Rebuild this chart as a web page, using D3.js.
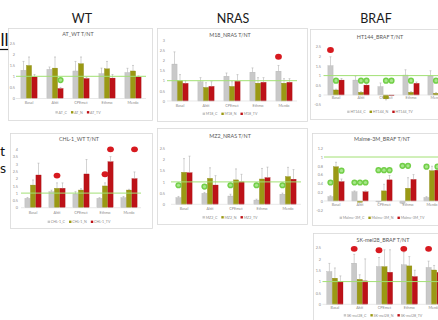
<!DOCTYPE html>
<html>
<head>
<meta charset="utf-8">
<script src="https://cdn.jsdelivr.net/npm/d3@7/dist/d3.min.js"></script>
<style>
  html, body { margin: 0; padding: 0; background: #ffffff; }
  svg { display: block; font-family: Lato, "Liberation Sans", sans-serif; }
</style>
</head>
<body>
<svg id="slide" width="438" height="320"></svg>
<script>
// ---- shared labels ----
const categories = ["Basal", "Akti", "CPEmet", "Ethmo", "Merdo"];
const columnTitles = ["WT", "NRAS", "BRAF"];

// ---- AT_WT ----
const atWtMeans  = [[1.27, 1.31, 1.24, 1.12, 1.17], [1.49, 1.37, 1.57, 1.34, 1.24], [0.97, 0.45, 0.90, 0.92, 0.97]];
const atWtErrors = [[0.40, 0.11, 0.43, 0.25, 0.19], [0.38, 0.50, 0.30, 0.33, 0.25], [0.11, 0.05, 0.06, 0.16, 0.05]];
const atWtLegend = ["AT_C", "AT_N", "AT_TV"];
const atWtRed   = [];
const atWtGreen = [["Akti", 2, 0.83]];

// ---- M18_NRAS ----
const m18Means  = [[1.82, 0.95, 1.22, 1.42, 1.47], [1.00, 0.67, 0.72, 0.88, 0.88], [0.87, 0.72, 0.97, 0.92, 0.92]];
const m18Errors = [[0.60, 0.20, 0.16, 0.21, 0.28], [0.30, 0.23, 0.23, 0.27, 0.22], [0.13, 0.23, 0.33, 0.23, 0.18]];
const m18Legend = ["M18_C", "M18_N", "M18_TV"];
const m18Red   = [["Merdo", 0, 2.18]];
const m18Green = [];

// ---- HT144_BRAF ----
const ht144Means  = [[1.51, 0.77, 0.43, 1.03, 0.98], [0.26, 0.14, -0.20, 0.14, 0.09], [0.77, 0.51, -0.03, 0.60, 0.55]];
const ht144Errors = [[0.46, 0.21, 0.19, 0.27, 0.27], [0.04, 0.03, 0.05, 0.03, 0.03], [0.08, 0.11, 0.02, 0.07, 0.08]];
const ht144Legend = ["HT144_C", "HT144_N", "HT144_TV"];
const ht144Red   = [["Basal", 0, 2.32]];
const ht144Green = [["Basal", 1, 0.74], ["Akti", 1, 0.74], ["Akti", 2, 0.74], ["CPEmet", 1, 0.74],
                    ["CPEmet", 2, 0.74], ["Ethmo", 1, 0.74], ["Merdo", 1, 0.74]];

// ---- CHL-1_WT ----
const chl1Means  = [[0.64, 1.10, 0.94, 0.64, 0.69], [1.55, 1.33, 1.21, 1.49, 1.21], [2.24, 1.33, 2.31, 3.15, 1.99]];
const chl1Errors = [[0.06, 0.10, 0.16, 0.05, 0.08], [0.35, 0.37, 0.09, 0.21, 0.05], [0.81, 0.37, 0.99, 0.35, 0.46]];
const chl1Legend = ["CHL-1_C", "CHL-1_N", "CHL-1_TV"];
const chl1Red   = [["Akti", 1, 2.2], ["Ethmo", 1, 2.29], ["Ethmo", 2, 4.0], ["Merdo", 2, 4.0]];
const chl1Green = [];

// ---- MZ2_NRAS ----
const mz2Means  = [[0.30, 0.49, 0.37, 0.19, 0.45], [1.43, 1.16, 1.09, 1.13, 1.24], [1.41, 0.86, 1.00, 1.19, 1.12]];
const mz2Errors = [[0.05, 0.04, 0.08, 0.04, 0.05], [0.61, 0.47, 0.49, 0.47, 0.41], [0.74, 0.42, 0.34, 0.47, 0.43]];
const mz2Legend = ["MZ2_C", "MZ2_N", "MZ2_TV"];
const mz2Red   = [];
const mz2Green = [["Basal", 0, 0.85], ["Akti", 0, 0.79], ["CPEmet", 0, 0.85], ["Ethmo", 0, 0.85], ["Merdo", 0, 0.85]];

// ---- Malme-3M_BRAF ----
const malmeMeans  = [[0.10, 0.21, -0.02, -0.05, 0.08], [0.78, -0.03, 0.23, 0.29, 0.69], [0.44, 0.21, 0.48, 0.49, 0.70]];
const malmeErrors = [[0.02, 0.02, 0.01, 0.01, 0.02], [0.10, 0.01, 0.15, 0.24, 0.10], [0.06, 0.02, 0.10, 0.11, 0.10]];
const malmeLegend = ["Malme-3M_C", "Malme-3M_N", "Malme-3M_TV"];
const malmeRed   = [];
const malmeGreen = [["Basal", 0, 0.42], ["Basal", 2, 0.69], ["Akti", 0, 0.42], ["Akti", 1, 0.42], ["Akti", 2, 0.42],
                    ["CPEmet", 0, 0.70], ["CPEmet", 1, 0.70], ["CPEmet", 2, 0.70], ["Ethmo", 0, 0.80], ["Ethmo", 1, 0.80],
                    ["Merdo", 0, 0.78], ["Merdo", 2, 0.78]];

// ---- SK-mel28_BRAF ----
const skMeans  = [[1.44, 1.81, 1.66, 1.74, 1.62], [1.15, 1.10, 1.66, 1.69, 1.51], [1.00, 1.03, 1.41, 1.22, 1.40]];
const skErrors = [[0.36, 0.39, 0.40, 0.56, 0.28], [0.45, 0.20, 0.74, 0.41, 0.20], [0.25, 0.97, 0.99, 0.28, 0.20]];
const skLegend = ["SK-mel28_C", "SK-mel28_N", "SK-mel28_TV"];
const skRed   = [["Akti", 0, 2.44], ["CPEmet", 0, 2.38], ["Ethmo", 0, 2.44], ["Merdo", 0, 2.44]];
const skGreen = [];

// ---- panel placement on the slide ----
const panels = [
  { title: "AT_WT T/NT", means: atWtMeans, errors: atWtErrors, legend: atWtLegend, red: atWtRed, green: atWtGreen,
    box: [8, 28, 144, 92], xr: [16, 146], yr: [98.5, 43], domain: [0, 2.5], step: 0.5,
    titleY: 36, xLabelY: 104.5, legendY: 113.5, yLabelX: 15 },
  { title: "M18_NRAS T/NT", means: m18Means, errors: m18Errors, legend: m18Legend, red: m18Red, green: m18Green,
    box: [157, 28, 150, 93], xr: [167, 297], yr: [101, 40.1], domain: [0, 3], step: 0.5,
    titleY: 36.5, xLabelY: 107, legendY: 115, yLabelX: 165 },
  { title: "HT144_BRAF T/NT", means: ht144Means, errors: ht144Errors, legend: ht144Legend, red: ht144Red, green: ht144Green,
    box: [310, 29, 140, 90], xr: [323.5, 448.5], yr: [104.7, 46.5], domain: [-0.5, 2.5], step: 0.5,
    titleY: 39, xLabelY: 99, legendY: 113, yLabelX: 321 },
  { title: "CHL-1_WT T/NT", means: chl1Means, errors: chl1Errors, legend: chl1Legend, red: chl1Red, green: chl1Green,
    box: [10, 133, 142, 95], xr: [21, 141], yr: [207.7, 149.3], domain: [0, 4], step: 0.5,
    titleY: 141, xLabelY: 214.5, legendY: 223, yLabelX: 18 },
  { title: "MZ2_NRAS T/NT", means: mz2Means, errors: mz2Errors, legend: mz2Legend, red: mz2Red, green: mz2Green,
    box: [157, 128, 150, 96], xr: [171, 301], yr: [204.3, 148.3], domain: [0, 2.5], step: 0.5,
    titleY: 137.5, xLabelY: 210.5, legendY: 218.5, yLabelX: 165 },
  { title: "Malme-3M_BRAF T/NT", means: malmeMeans, errors: malmeErrors, legend: malmeLegend, red: malmeRed, green: malmeGreen,
    box: [312, 133, 140, 92], xr: [324, 444], yr: [209.8, 148.2], domain: [-0.2, 1.2], step: 0.2,
    titleY: 140.5, xLabelY: 206.5, legendY: 219, yLabelX: 323 },
  { title: "SK-mel28_BRAF T/NT", means: skMeans, errors: skErrors, legend: skLegend, red: skRed, green: skGreen,
    box: [313, 233, 140, 95], xr: [322.5, 446.5], yr: [304.3, 247.5], domain: [0, 2.5], step: 0.5,
    titleY: 241.5, xLabelY: 309, legendY: 316.5, yLabelX: 321 }
];

const seriesColors = ["#c9c9c9", "#9a9914", "#bd1218"];
const seriesStroke = ["#a9a9a9", "#85840f", "#9e0d12"];

const svg = d3.select("#slide");

// column headings
const headingX = [82, 233, 376];
svg.selectAll("text.heading").data(columnTitles).join("text")
  .attr("class", "heading")
  .attr("x", (d, i) => headingX[i]).attr("y", 23)
  .attr("text-anchor", "middle")
  .attr("font-size", 12.5).attr("fill", "#1a1a1a")
  .text(d => d);

// text running in from the left margin
svg.append("text").attr("x", 0.5).attr("y", 46).attr("font-size", 17).attr("fill", "#111").text("ll");
svg.append("line").attr("x1", 0).attr("x2", 9.5).attr("y1", 49.5).attr("y2", 49.5)
  .attr("stroke", "#111").attr("stroke-width", 1.2);
svg.append("text").attr("x", 0).attr("y", 156).attr("font-size", 14).attr("fill", "#111").text("t");
svg.append("text").attr("x", 0).attr("y", 173).attr("font-size", 14).attr("fill", "#111").text("s");

const fmt = v => String(+v.toFixed(2));

panels.forEach(p => {
  const g = svg.append("g");
  const [bx, by, bw, bh] = p.box;

  g.append("rect").attr("x", bx + 0.5).attr("y", by + 0.5).attr("width", bw).attr("height", bh)
    .attr("fill", "#ffffff").attr("stroke", "#d9d9d9").attr("stroke-width", 0.8);

  const x = d3.scaleBand().domain(categories).range(p.xr).padding(0);
  const sub = d3.scaleBand().domain([0, 1, 2]).range([-8.1, 8.1]).paddingInner(0.06);
  const y = d3.scaleLinear().domain(p.domain).range(p.yr);
  const cx = (cat, s) => x(cat) + x.bandwidth() / 2 + sub(s) + sub.bandwidth() / 2;

  // title
  g.append("text").attr("x", bx + bw / 2 - (bx > 300 ? 0 : 2)).attr("y", p.titleY)
    .attr("text-anchor", "middle").attr("font-size", 5.4).attr("fill", "#595959")
    .text(p.title);

  // value axis labels
  const ticks = d3.range(p.domain[0], p.domain[1] + 1e-9, p.step);
  const yAxis = d3.axisLeft(y).tickValues(ticks).tickFormat(fmt).tickSize(0).tickPadding(0);
  const ya = g.append("g").attr("transform", `translate(${p.yLabelX},0)`).call(yAxis);
  ya.select(".domain").remove();
  ya.selectAll("text").attr("font-size", 3.8).attr("fill", "#8c8c8c").attr("font-family", "Lato, sans-serif");

  // category labels
  const xAxis = d3.axisBottom(x).tickSize(0).tickPadding(0);
  const xa = g.append("g").attr("transform", `translate(0,${p.xLabelY - 3})`).call(xAxis);
  xa.select(".domain").remove();
  xa.selectAll("text").attr("font-size", 3.8).attr("fill", "#8c8c8c").attr("font-family", "Lato, sans-serif");

  // bars
  const bars = [];
  p.means.forEach((row, s) => row.forEach((v, i) => bars.push({ cat: categories[i], s, v, e: p.errors[s][i] })));

  g.selectAll("rect.bar").data(bars).join("rect")
    .attr("class", "bar")
    .attr("x", d => x(d.cat) + x.bandwidth() / 2 + sub(d.s))
    .attr("width", sub.bandwidth())
    .attr("y", d => Math.min(y(d.v), y(0)))
    .attr("height", d => Math.abs(y(d.v) - y(0)))
    .attr("fill", d => seriesColors[d.s])
    .attr("stroke", d => seriesStroke[d.s]).attr("stroke-width", 0.3);

  // axis baseline
  g.append("line").attr("x1", p.xr[0]).attr("x2", p.xr[1]).attr("y1", y(0)).attr("y2", y(0))
    .attr("stroke", "#d9d9d9").attr("stroke-width", 0.6);

  // error bars
  const errTop = d => y(d.v >= 0 ? d.v + d.e : d.v - d.e);
  g.selectAll("line.err").data(bars).join("line")
    .attr("class", "err")
    .attr("x1", d => cx(d.cat, d.s)).attr("x2", d => cx(d.cat, d.s))
    .attr("y1", d => y(d.v)).attr("y2", errTop)
    .attr("stroke", "#a6a6a6").attr("stroke-width", 0.5);
  g.selectAll("line.cap").data(bars).join("line")
    .attr("class", "cap")
    .attr("x1", d => cx(d.cat, d.s) - 1).attr("x2", d => cx(d.cat, d.s) + 1)
    .attr("y1", errTop).attr("y2", errTop)
    .attr("stroke", "#a6a6a6").attr("stroke-width", 0.5);

  // reference line at 1
  g.append("line").attr("x1", p.xr[0]).attr("x2", p.xr[1]).attr("y1", y(1)).attr("y2", y(1))
    .attr("stroke", "#a2e074").attr("stroke-width", 1);

  // significance markers
  g.selectAll("ellipse.up").data(p.red).join("ellipse")
    .attr("class", "up")
    .attr("cx", d => cx(d[0], d[1])).attr("cy", d => y(d[2]))
    .attr("rx", 3.4).attr("ry", 2.9).attr("fill", "#d7191f");
  const greens = g.selectAll("g.down").data(p.green).join("g")
    .attr("class", "down")
    .attr("transform", d => `translate(${cx(d[0], d[1])},${y(d[2])})`);
  greens.append("circle").attr("r", 3.1).attr("fill", "#72cf48");
  greens.append("circle").attr("r", 1.6).attr("fill", "#a8e68c");

  // legend
  const lg = g.append("g");
  let lx = 0;
  p.legend.forEach((name, s) => {
    lg.append("rect").attr("x", lx).attr("y", -2.4).attr("width", 2.4).attr("height", 2.4).attr("fill", seriesColors[s]);
    const t = lg.append("text").attr("x", lx + 3.2).attr("y", 0).attr("font-size", 3.6).attr("fill", "#8c8c8c").text(name);
    lx += 3.2 + t.node().getComputedTextLength() + 4;
  });
  const legendW = lx - 4;
  lg.attr("transform", `translate(${bx + bw / 2 - legendW / 2 - (bx > 300 ? 0 : 2)},${p.legendY})`);
});
</script>
</body>
</html>
